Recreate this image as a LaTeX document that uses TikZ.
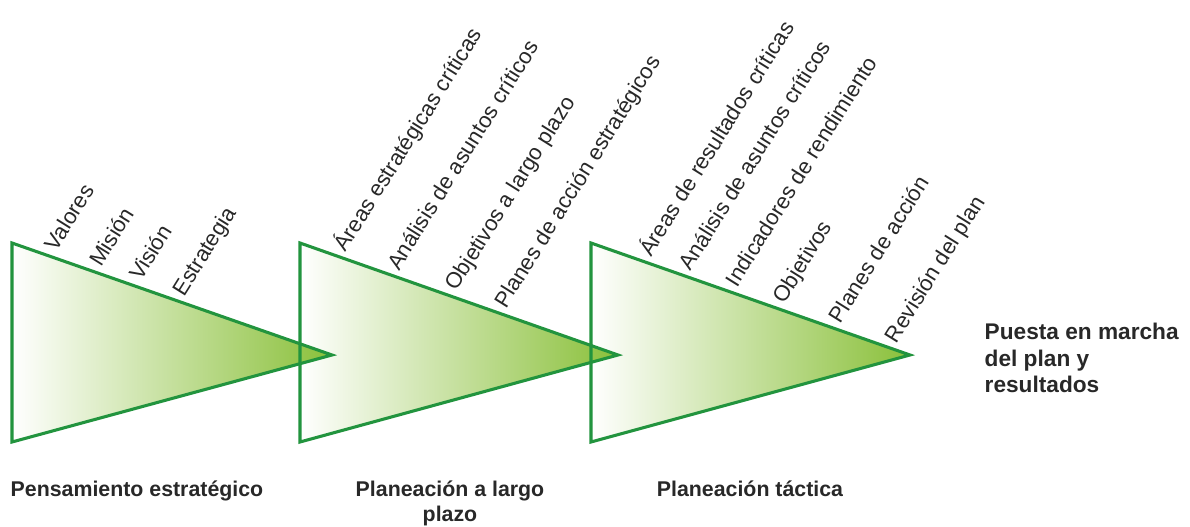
\documentclass[tikz,border=0pt]{standalone}
\usepackage{fontspec}
\setmainfont{Liberation Sans}
\usetikzlibrary{positioning,calc}
\definecolor{stageline}{RGB}{34,148,62}
\definecolor{stagetip}{RGB}{138,192,58}
\definecolor{stagetext}{RGB}{40,40,40}
\tikzset{
  stagefill/.style={left color=white, right color=stagetip},
  stageedge/.style={draw=stageline, line width=2.3pt, line join=miter},
  itemlabel/.style={yshift=4.5pt, rotate=58, anchor=base west, inner sep=0pt,
    font=\fontsize{16.5}{19}\selectfont, text=stagetext},
  stagename/.style={font=\fontsize{16}{19}\selectfont\bfseries, text=stagetext,
    align=center, anchor=base},
  goallabel/.style={font=\fontsize{17}{20}\selectfont\bfseries, text=stagetext,
    align=left, anchor=west},
}

\begin{document}
\begin{tikzpicture}[x=0.75pt, y=-0.75pt]
  \useasboundingbox (0,0) rectangle (1190,527);
  % corners of the three stages
  \coordinate (p1nw) at (12,243);  \coordinate (p1sw) at (12,442);  \coordinate (p1tip) at (332,355);
  \coordinate (p2nw) at (300,243); \coordinate (p2sw) at (300,442); \coordinate (p2tip) at (618,355);
  \coordinate (p3nw) at (591,243); \coordinate (p3sw) at (591,442); \coordinate (p3tip) at (910,355);
  % fills first, outlines on top
  \fill[stagefill] (p3nw) -- (p3tip) -- (p3sw) -- cycle;
  \fill[stagefill] (p2nw) -- (p2tip) -- (p2sw) -- cycle;
  \fill[stagefill] (p1nw) -- (p1tip) -- (p1sw) -- cycle;
  \draw[stageedge] (p1nw) -- (p1tip) -- (p1sw) -- cycle;
  \draw[stageedge] (p2nw) -- (p2tip) -- (p2sw) -- cycle;
  \draw[stageedge] (p3nw) -- (p3tip) -- (p3sw) -- cycle;
  % items along the upper edges
  \path (p1nw) -- (p1tip)
    node[itemlabel, pos=0.138] (valores) {Valores}
    node[itemlabel, pos=0.278] (mision) {Misión}
    node[itemlabel, pos=0.403] (vision) {Visión}
    node[itemlabel, pos=0.538] (estrategia) {Estrategia};
  \path (p2nw) -- (p2tip)
    node[itemlabel, pos=0.144] (areasest) {Áreas estratégicas críticas}
    node[itemlabel, pos=0.311] (analisislp) {Análisis de asuntos críticos}
    node[itemlabel, pos=0.493] (objlp) {Objetivos a largo plazo}
    node[itemlabel, pos=0.648] (planesest) {Planes de acción estratégicos};
  \path (p3nw) -- (p3tip)
    node[itemlabel, pos=0.188] (areasres) {Áreas de resultados críticas}
    node[itemlabel, pos=0.313] (analisistac) {Análisis de asuntos críticos}
    node[itemlabel, pos=0.458] (indicadores) {Indicadores de rendimiento}
    node[itemlabel, pos=0.605] (objtac) {Objetivos}
    node[itemlabel, pos=0.783] (planestac) {Planes de acción}
    node[itemlabel, pos=0.958] (revision) {Revisión del plan};
  % stage names
  \node[stagename] (pensamiento) at (137,497) {Pensamiento estratégico};
  \node[stagename] (largoplazo) at (450,522) {Planeación a largo\\plazo};
  \node[stagename] (tactica) at (750,497) {Planeación táctica};
  \node[goallabel] (puesta) at (980,358) {Puesta en marcha\\del plan y\\resultados};
\end{tikzpicture}
\end{document}
